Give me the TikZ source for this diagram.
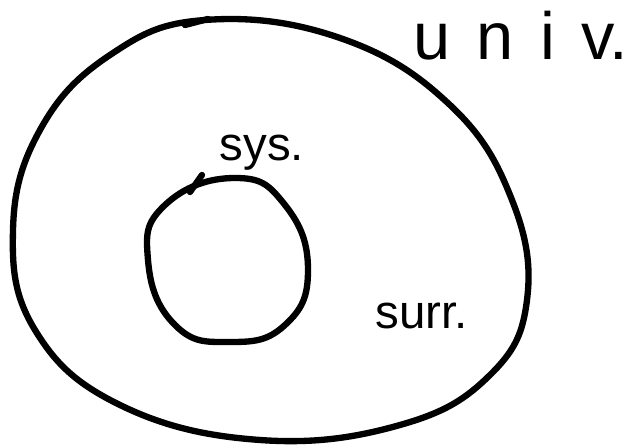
\documentclass[tikz,border=0pt]{standalone}
\usepackage{fontspec}
\setmainfont{Liberation Sans}
\usepackage{tikz}
\usetikzlibrary{positioning,calc}

\begin{document}
\begin{tikzpicture}[
  x=0.02cm, y=-0.02cm,
  pen/.style={line width=3.6pt, line cap=round, line join=round},
  lbl/.style={inner sep=0pt, font=\fontsize{27}{30}\selectfont}
]
\useasboundingbox (0,0) rectangle (640,445);

% outer region (universe)
\draw[pen] plot[smooth cycle, tension=0.7] coordinates {
  (205,20) (110,55) (40,130) (13,230) (35,330) (120,405) (260,440)
  (400,425) (490,375) (527,300) (512,200) (450,105) (340,38)};
\draw[pen] (185,25) -- (208,19);

% inner region (system)
\draw[pen] plot[smooth cycle, tension=0.8] coordinates {
  (235,178) (285,205) (308,270) (285,325) (230,342) (175,325)
  (148,260) (165,205)};
\draw[pen] (190,192) -- (202,175);

\node[lbl, font=\fontsize{38}{42}\selectfont] (univ) at (521,36) {u\kern15pt n\kern15pt i\kern15pt v.};
\node[lbl] (sys) at (262,153) {sys.};
\node[lbl] (surr) at (422,316) {surr.};
\end{tikzpicture}
\end{document}
